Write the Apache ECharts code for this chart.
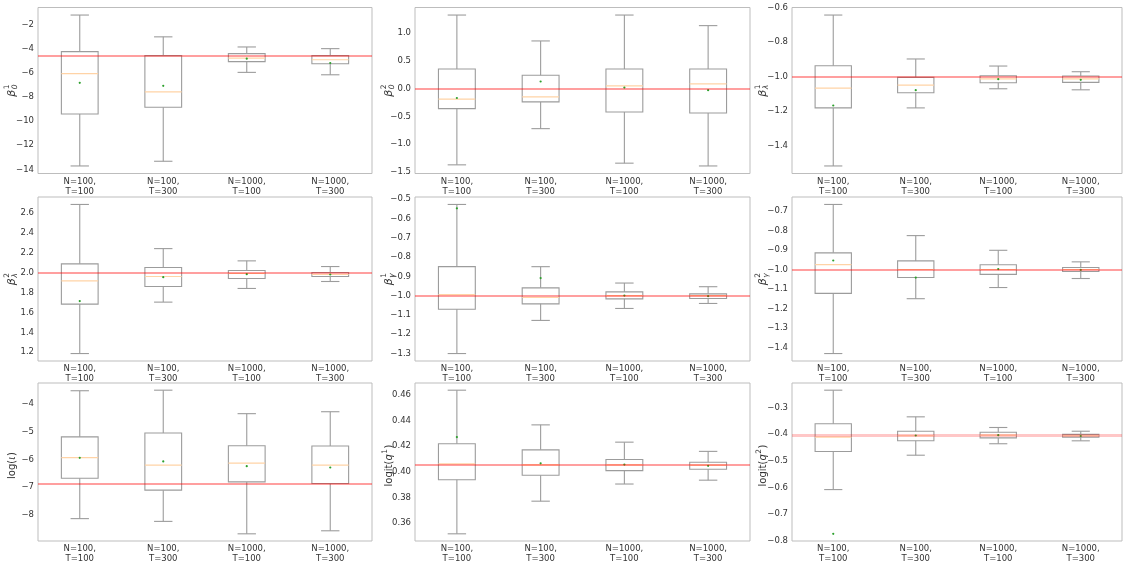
<!DOCTYPE html>
<html><head><meta charset="utf-8">
<script src="https://cdn.jsdelivr.net/npm/echarts@6/dist/echarts.min.js"></script>
<style>html,body{margin:0;padding:0;background:#fff}#c{width:1123px;height:564px}</style>
</head><body><div id="c"></div>
<script>
// ---------------- DATA ----------------
const categories = ['N=100,\nT=100', 'N=100,\nT=300', 'N=1000,\nT=100', 'N=1000,\nT=300'];
// each box: [lower whisker, Q1, median, Q3, upper whisker]
const beta0_1_boxes = [[-13.72, -9.41, -6.06, -4.23, -1.19], [-13.33, -8.85, -7.57, -4.56, -3.0], [-5.95, -5.06, -4.76, -4.39, -3.84], [-6.15, -5.23, -4.9, -4.56, -3.98]];
const beta0_1_means = [-6.82, -7.07, -4.81, -5.17];
const beta0_2_boxes = [[-1.37, -0.36, -0.19, 0.35, 1.32], [-0.72, -0.24, -0.15, 0.24, 0.855], [-1.34, -0.42, 0.048, 0.35, 1.32], [-1.39, -0.44, 0.084, 0.35, 1.13]];
const beta0_2_means = [-0.17, 0.127, 0.018, -0.03];
const betaL_1_boxes = [[-1.518, -1.181, -1.066, -0.936, -0.642], [-1.181, -1.093, -1.049, -1.004, -0.897], [-1.07, -1.035, -1.012, -0.994, -0.938], [-1.076, -1.033, -1.012, -0.996, -0.971]];
const betaL_1_means = [-1.167, -1.078, -1.014, -1.018];
const betaL_2_boxes = [[1.187, 1.683, 1.917, 2.087, 2.683], [1.703, 1.86, 1.96, 2.05, 2.24], [1.84, 1.94, 1.99, 2.02, 2.117], [1.91, 1.96, 1.98, 2.0, 2.06]];
const betaL_2_means = [1.713, 1.953, 1.983, 1.98];
const betaG_1_boxes = [[-1.301, -1.071, -0.995, -0.85, -0.527], [-1.129, -1.043, -1.01, -0.96, -0.85], [-1.067, -1.017, -1.0, -0.981, -0.935], [-1.041, -1.015, -1.0, -0.991, -0.954]];
const betaG_1_means = [-0.547, -0.909, -1.0, -1.003];
const betaG_2_boxes = [[-1.429, -1.122, -0.975, -0.915, -0.668], [-1.149, -1.041, -1.0, -0.956, -0.827], [-1.092, -1.025, -1.0, -0.976, -0.902], [-1.046, -1.01, -1.0, -0.99, -0.961]];
const betaG_2_means = [-0.954, -1.041, -0.998, -1.002];
const logIota_boxes = [[-8.14, -6.68, -5.93, -5.18, -3.51], [-8.24, -7.11, -6.20, -5.04, -3.49], [-8.69, -6.81, -6.13, -5.50, -4.34], [-8.58, -6.87, -6.20, -5.51, -4.27]];
const logIota_means = [-5.94, -6.07, -6.24, -6.29];
const logitQ1_boxes = [[0.3516, 0.3938, 0.4062, 0.4219, 0.4638], [0.3771, 0.3973, 0.4055, 0.4172, 0.4367], [0.3905, 0.401, 0.4055, 0.4097, 0.4232], [0.3935, 0.402, 0.4052, 0.4075, 0.416]];
const logitQ1_means = [0.4272, 0.4067, 0.4057, 0.4047];
const logitQ2_boxes = [[-0.608, -0.465, -0.411, -0.361, -0.235], [-0.479, -0.425, -0.406, -0.389, -0.335], [-0.436, -0.414, -0.404, -0.393, -0.375], [-0.425, -0.411, -0.406, -0.401, -0.389]];
const logitQ2_means = [-0.774, -0.405, -0.404, -0.407];
// true parameter values (reference lines), panel order
const trueValues = [-4.56, 0, -1, 2, -1, -1, -6.89, 0.4055, -0.405];
// tick labels
const ticks_beta0_1 = [-14, -12, -10, -8, -6, -4, -2];
const ticks_beta0_2 = [-1.5, -1.0, -0.5, 0.0, 0.5, 1.0];
const ticks_betaL_1 = [-1.4, -1.2, -1.0, -0.8, -0.6];
const ticks_betaL_2 = [1.2, 1.4, 1.6, 1.8, 2.0, 2.2, 2.4, 2.6];
const ticks_betaG_1 = [-1.3, -1.2, -1.1, -1.0, -0.9, -0.8, -0.7, -0.6, -0.5];
const ticks_betaG_2 = [-1.4, -1.3, -1.2, -1.1, -1.0, -0.9, -0.8, -0.7];
const ticks_logIota = [-8, -7, -6, -5, -4];
const ticks_logitQ1 = [0.36, 0.38, 0.40, 0.42, 0.44, 0.46];
const ticks_logitQ2 = [-0.8, -0.7, -0.6, -0.5, -0.4, -0.3];
const tickDecimals = [0, 1, 1, 1, 1, 1, 0, 2, 1];
// axis titles
const axisTitles = [
  {sym: 'β', sub: '0', sup: '1'}, {sym: 'β', sub: '0', sup: '2'}, {sym: 'β', sub: 'λ', sup: '1'},
  {sym: 'β', sub: 'λ', sup: '2'}, {sym: 'β', sub: 'γ', sup: '1'}, {sym: 'β', sub: 'γ', sup: '2'},
  {pre: 'log(', it: 'ι', post: ')'}, {pre: 'logit(', it: 'q', sup: '1', post: ')'}, {pre: 'logit(', it: 'q', sup: '2', post: ')'}
];

const panelBoxes = [beta0_1_boxes, beta0_2_boxes, betaL_1_boxes, betaL_2_boxes, betaG_1_boxes, betaG_2_boxes, logIota_boxes, logitQ1_boxes, logitQ2_boxes];
const panelMeans = [beta0_1_means, beta0_2_means, betaL_1_means, betaL_2_means, betaG_1_means, betaG_2_means, logIota_means, logitQ1_means, logitQ2_means];
const panelTicks = [ticks_beta0_1, ticks_beta0_2, ticks_betaL_1, ticks_betaL_2, ticks_betaG_1, ticks_betaG_2, ticks_logIota, ticks_logitQ1, ticks_logitQ2];

// ---------------- LAYOUT / STYLE ----------------
const colLeft = [38, 415, 792];
const colWidth = [334, 335, 330];
const rowTop = [7.5, 197, 383];
const rowHeight = [166, 164, 165];
const titleX = [12, 389, 763];
const FONT = 'DejaVu Sans';
const BOX_COLOR = '#9c9c9c';
const MED_COLOR = '#ffd3a6';
const MEAN_COLOR = '#2ca02c';
const TXT = '#333';
const refLineStyles = [];
for (let i = 0; i < 9; i++) refLineStyles.push({color: 'rgba(255,0,0,0.5)', width: 1.5});
refLineStyles[8] = {color: 'rgba(255,0,0,0.22)', width: 3};

const measureCtx = document.createElement('canvas').getContext('2d');
function tw(text, size, italic) {
  measureCtx.font = (italic ? 'italic ' : '') + size + 'px "' + FONT + '"';
  return measureCtx.measureText(text).width;
}

function fmt(v, d) {
  const s = Number(v).toFixed(d);
  return s.replace('-', '\u2212');
}

function buildTitle(t, cx, cy) {
  const big = 10, small = 7.5;
  const children = [];
  let x = 0;
  if (t.sym) {
    const w = tw(t.sym, big + 1, true);
    children.push({type: 'text', x: x, y: 0, style: {text: t.sym, font: 'italic ' + (big + 1) + 'px "' + FONT + '"', fill: TXT, align: 'left', verticalAlign: 'middle'}});
    x += w + 0.5;
    const ws = Math.max(tw(t.sup, small), tw(t.sub, small, true));
    children.push({type: 'text', x: x, y: -4.5, style: {text: t.sup, font: small + 'px "' + FONT + '"', fill: TXT, align: 'left', verticalAlign: 'middle'}});
    children.push({type: 'text', x: x, y: 3.5, style: {text: t.sub, font: 'italic ' + small + 'px "' + FONT + '"', fill: TXT, align: 'left', verticalAlign: 'middle'}});
    x += ws;
  } else {
    children.push({type: 'text', x: x, y: 0, style: {text: t.pre, font: big + 'px "' + FONT + '"', fill: TXT, align: 'left', verticalAlign: 'middle'}});
    x += tw(t.pre, big);
    children.push({type: 'text', x: x, y: 0, style: {text: t.it, font: 'italic ' + big + 'px "' + FONT + '"', fill: TXT, align: 'left', verticalAlign: 'middle'}});
    x += tw(t.it, big, true) + 0.5;
    if (t.sup) {
      children.push({type: 'text', x: x, y: -4, style: {text: t.sup, font: small + 'px "' + FONT + '"', fill: TXT, align: 'left', verticalAlign: 'middle'}});
      x += tw(t.sup, small) + 0.5;
    }
    children.push({type: 'text', x: x, y: 0, style: {text: t.post, font: big + 'px "' + FONT + '"', fill: TXT, align: 'left', verticalAlign: 'middle'}});
    x += tw(t.post, big);
  }
  children.forEach(c => { c.x -= x / 2; });
  return {type: 'group', x: cx, y: cy, rotation: Math.PI / 2, silent: true, children: children};
}

function renderBox(params, api) {
  const i = api.value(0);
  const xc = api.coord([i, 0])[0];
  const band = api.size([1, 0])[0];
  const bw = band * 0.44, cw = bw * 0.5;
  const y = k => api.coord([i, api.value(k)])[1];
  const yLo = y(1), yQ1 = y(2), yMed = y(3), yQ3 = y(4), yHi = y(5), yMean = y(6);
  const ls = {stroke: BOX_COLOR, lineWidth: 1.1, fill: null};
  return {type: 'group', children: [
    {type: 'line', shape: {x1: xc, y1: yQ3, x2: xc, y2: yHi}, style: ls},
    {type: 'line', shape: {x1: xc, y1: yQ1, x2: xc, y2: yLo}, style: ls},
    {type: 'line', shape: {x1: xc - cw / 2, y1: yHi, x2: xc + cw / 2, y2: yHi}, style: ls},
    {type: 'line', shape: {x1: xc - cw / 2, y1: yLo, x2: xc + cw / 2, y2: yLo}, style: ls},
    {type: 'rect', shape: {x: xc - bw / 2, y: yQ3, width: bw, height: yQ1 - yQ3}, style: {fill: 'none', stroke: BOX_COLOR, lineWidth: 1.1}},
    {type: 'line', shape: {x1: xc - bw / 2, y1: yMed, x2: xc + bw / 2, y2: yMed}, style: {stroke: MED_COLOR, lineWidth: 1.2}},
    {type: 'circle', shape: {cx: xc, cy: yMean, r: 1.1}, style: {fill: MEAN_COLOR}}
  ]};
}

const grids = [], xAxes = [], yAxes = [], series = [], graphics = [];
for (let p = 0; p < 9; p++) {
  const r = Math.floor(p / 3), c = p % 3;
  grids.push({left: colLeft[c], top: rowTop[r], width: colWidth[c], height: rowHeight[r], show: true, borderColor: '#bdbdbd', borderWidth: 1, containLabel: false});
  xAxes.push({type: 'category', gridIndex: p, data: categories, boundaryGap: true,
    axisLine: {show: false}, axisTick: {show: false}, splitLine: {show: false},
    axisLabel: {interval: 0, fontSize: 8.5, lineHeight: 10, color: TXT, fontFamily: FONT, margin: 3}});
  const all = [];
  panelBoxes[p].forEach(b => all.push(...b));
  all.push(...panelMeans[p]);
  const lo = Math.min(...all), hi = Math.max(...all), pad = (hi - lo) * 0.05;
  const d = tickDecimals[p];
  yAxes.push({type: 'value', gridIndex: p, min: lo - pad, max: hi + pad, scale: true,
    axisLine: {show: false}, axisTick: {show: false, customValues: panelTicks[p]}, splitLine: {show: false},
    axisLabel: {customValues: panelTicks[p], formatter: v => fmt(v, d), fontSize: 8.5, color: TXT, fontFamily: FONT, margin: 4}});
  const data = panelBoxes[p].map((b, i) => [i, b[0], b[1], b[2], b[3], b[4], panelMeans[p][i]]);
  series.push({type: 'custom', xAxisIndex: p, yAxisIndex: p, data: data, renderItem: renderBox,
    encode: {x: 0, y: [1, 2, 3, 4, 5, 6]}, silent: true, clip: false,
    markLine: {silent: true, symbol: ['none', 'none'], label: {show: false}, animation: false, precision: 6,
      lineStyle: {color: refLineStyles[p].color, width: refLineStyles[p].width, type: 'solid'},
      data: [{yAxis: trueValues[p]}]}});
  graphics.push(buildTitle(axisTitles[p], titleX[c], rowTop[r] + rowHeight[r] / 2));
}

const chart = echarts.init(document.getElementById('c'), null, {renderer: 'canvas'});
chart.setOption({animation: false, backgroundColor: '#fff', grid: grids, xAxis: xAxes, yAxis: yAxes, series: series, graphic: graphics});
</script>
</body></html>
